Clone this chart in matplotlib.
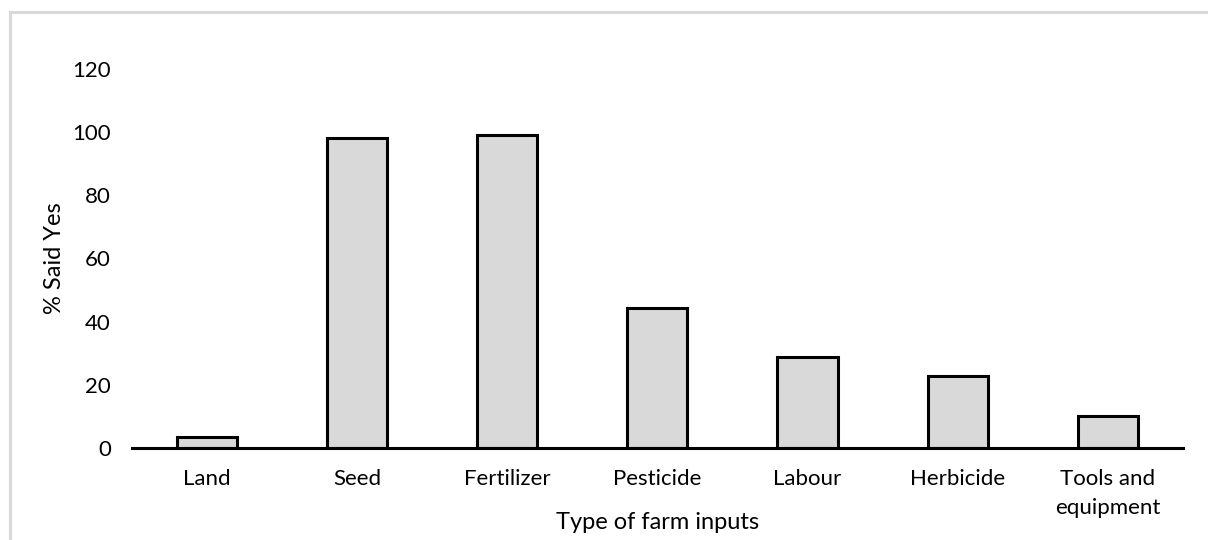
import numpy as np
import matplotlib
matplotlib.use('Agg')
import matplotlib.pyplot as plt
from matplotlib.patches import Rectangle

CATEGORIES = ['Land', 'Seed', 'Fertilizer', 'Pesticide', 'Labour', 'Herbicide', 'Tools and\nequipment']
PERCENT_YES = [3.6, 98.3, 99.0, 44.4, 28.7, 22.8, 10.1]
Y_TICKS = [0, 20, 40, 60, 80, 100, 120]

plt.rcParams['font.family'] = ['Lato', 'DejaVu Sans']

fig = plt.figure(figsize=(12.08, 5.4), dpi=100)
ax = fig.add_axes([0.109, 0.1704, 0.8703, 0.7018])

# light grey frame of the chart area (runs off the right and bottom edges)
fig.patches.append(Rectangle((10 / 1208, -0.1), 1.2, 1 - 12 / 540 + 0.1,
                             transform=fig.transFigure, fill=False,
                             edgecolor='#d9d9d9', linewidth=2.2))

x_pos = np.arange(len(CATEGORIES))
ax.bar(x_pos, PERCENT_YES, 0.4, color='#d9d9d9', edgecolor='black', linewidth=2.2, zorder=2)

ax.set_xlim(-0.5, len(CATEGORIES) - 0.5)
ax.set_ylim(0, 120)
ax.set_yticks(Y_TICKS)
ax.set_xticks(x_pos)
ax.set_xticklabels(CATEGORIES, linespacing=1.55)

for side in ['top', 'right', 'left']:
	ax.spines[side].set_visible(False)
ax.spines['bottom'].set_linewidth(2.2)
ax.spines['bottom'].set_zorder(3)

ax.tick_params(axis='y', length=0, pad=15, labelsize=16)
ax.tick_params(axis='x', length=0, pad=15, labelsize=16)
ax.set_ylabel('% Said Yes', fontsize=17, labelpad=5)
ax.set_xlabel('Type of farm inputs', fontsize=17, va='center')
# axis title sits level with the second line of "Tools and equipment", as in the source
ax.xaxis.set_label_coords(0.5, -0.196)

fig.savefig('out.png', dpi=100)
